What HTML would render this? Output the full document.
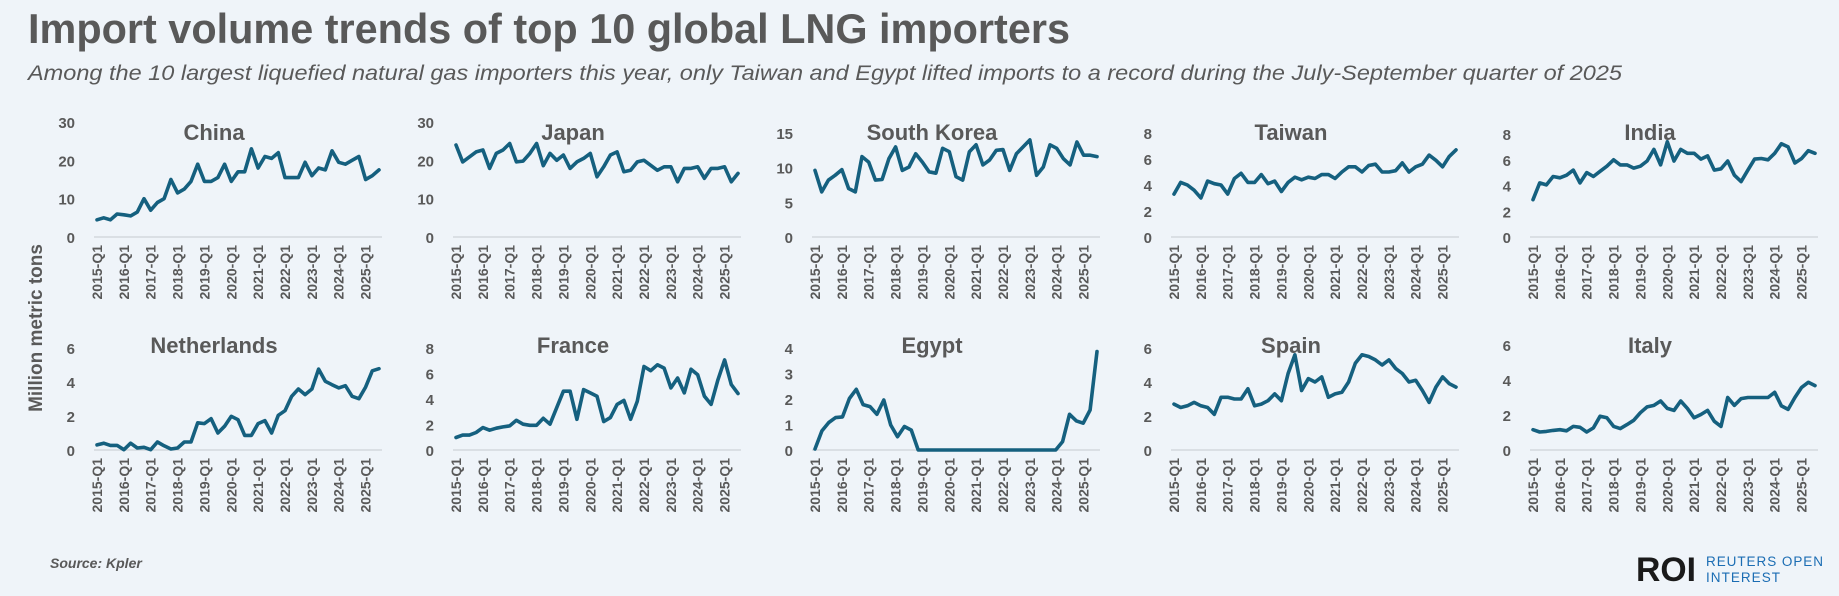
<!DOCTYPE html>
<html><head><meta charset="utf-8">
<style>
html,body{margin:0;padding:0;background:#eff4f9;}
svg{display:block;}
text{font-family:"Liberation Sans",sans-serif;}
</style></head>
<body>
<svg id="s" width="1839" height="596" viewBox="0 0 1839 596" xmlns="http://www.w3.org/2000/svg">
<rect width="1839" height="596" fill="#eff4f9"/>
<text x="28" y="43" font-size="42" font-weight="bold" fill="#595959" textLength="1042" lengthAdjust="spacingAndGlyphs">Import volume trends of top 10 global LNG importers</text>
<text x="28" y="80" font-size="21" font-style="italic" fill="#595959" textLength="1594" lengthAdjust="spacingAndGlyphs">Among the 10 largest liquefied natural gas importers this year, only Taiwan and Egypt lifted imports to a record during the July-September quarter of 2025</text>
<text transform="translate(42,328) rotate(-90)" text-anchor="middle" font-size="19" font-weight="bold" fill="#595959">Million metric tons</text>
<text x="50" y="568" font-size="14" font-weight="bold" font-style="italic" fill="#595959">Source:  Kpler</text>
<text x="1636" y="581" font-size="34" font-weight="bold" fill="#1a1a1a" textLength="60" lengthAdjust="spacingAndGlyphs">ROI</text>
<text x="1706" y="566" font-size="13.5" fill="#1b6db3" textLength="117" lengthAdjust="spacing">REUTERS OPEN</text>
<text x="1706" y="582" font-size="13.5" fill="#1b6db3" textLength="74" lengthAdjust="spacing">INTEREST</text>
<g id="g"></g>
</svg>
<script>
var P=[
["China",30,[0,10,20,30],122,0,[4.5,5,4.5,6,5.8,5.5,6.5,10,7,9,10,15,11.5,12.5,14.5,19,14.5,14.5,15.5,19,14.5,17,17,23,18,21,20.5,22,15.5,15.5,15.5,19.5,16,18,17.5,22.5,19.5,19,20,21,15,16,17.5]],
["Japan",30,[0,10,20,30],122,0,[24,19.6,20.9,22.2,22.7,17.9,21.8,22.7,24.4,19.6,19.8,21.8,24.4,18.6,21.8,20,21.4,17.9,19.6,20.5,21.8,15.7,18.3,21.4,22.2,17,17.4,19.6,20,18.7,17.4,18.3,18.3,14.4,17.9,17.9,18.3,15.3,17.9,17.9,18.3,14.4,16.6]],
["South Korea",15,[0,5,10,15],133,0,[9.6,6.5,8.2,8.9,9.7,7,6.5,11.6,10.8,8.2,8.3,11.3,13,9.6,10.1,12,10.8,9.4,9.2,12.8,12.3,8.7,8.2,12.3,13.3,10.4,11.1,12.5,12.6,9.6,12,13,14,8.9,10.1,13.3,12.8,11.3,10.4,13.7,11.8,11.8,11.6]],
["Taiwan",8,[0,2,4,6,8],133,0,[3.3,4.2,4,3.6,3,4.3,4.1,4,3.3,4.5,4.9,4.2,4.2,4.8,4.1,4.3,3.5,4.2,4.6,4.4,4.6,4.5,4.8,4.8,4.5,5,5.4,5.4,5,5.5,5.6,5,5,5.1,5.7,5,5.4,5.6,6.3,5.9,5.4,6.2,6.7]],
["India",8,[0,2,4,6,8],134,0,[2.9,4.2,4.05,4.7,4.6,4.8,5.2,4.2,5,4.7,5.1,5.5,6,5.6,5.6,5.35,5.5,5.9,6.8,5.6,7.4,5.9,6.8,6.5,6.5,6.05,6.3,5.2,5.3,5.9,4.8,4.3,5.2,6.05,6.1,6,6.5,7.25,7,5.75,6.1,6.7,6.5]],
["Netherlands",6,[0,2,4,6],348,1,[0.3,0.4,0.27,0.27,0.02,0.4,0.12,0.16,0.02,0.47,0.25,0.06,0.12,0.47,0.47,1.6,1.55,1.84,1,1.4,1.98,1.78,0.86,0.86,1.55,1.73,1,2.04,2.31,3.16,3.59,3.26,3.59,4.76,4.04,3.84,3.65,3.78,3.16,3.02,3.7,4.66,4.78]],
["France",8,[0,2,4,6,8],348,1,[0.98,1.17,1.17,1.37,1.76,1.55,1.71,1.81,1.89,2.33,2.02,1.94,1.94,2.49,2.02,3.32,4.61,4.61,2.41,4.74,4.48,4.22,2.23,2.54,3.58,3.89,2.41,3.83,6.55,6.22,6.68,6.42,4.87,5.65,4.48,6.34,5.9,4.22,3.58,5.5,7.07,5.13,4.43]],
["Egypt",4,[0,1,2,3,4],348,1,[0.04,0.75,1.08,1.27,1.3,2.02,2.38,1.78,1.7,1.4,1.96,0.98,0.52,0.92,0.78,0,0,0,0,0,0,0,0,0,0,0,0,0,0,0,0,0,0,0,0,0,0.33,1.4,1.14,1.05,1.57,3.86]],
["Spain",6,[0,2,4,6],348,1,[2.7,2.5,2.6,2.8,2.6,2.5,2.1,3.1,3.1,3,3,3.6,2.6,2.7,2.9,3.3,2.9,4.5,5.6,3.5,4.2,4,4.3,3.1,3.3,3.4,4,5.1,5.6,5.5,5.3,5,5.3,4.8,4.5,4,4.1,3.5,2.8,3.7,4.3,3.9,3.7]],
["Italy",6,[0,2,4,6],345,1,[1.16,1.03,1.06,1.12,1.16,1.1,1.35,1.3,1.03,1.26,1.93,1.84,1.35,1.22,1.45,1.7,2.13,2.46,2.55,2.8,2.38,2.26,2.8,2.38,1.84,2.03,2.26,1.64,1.35,3,2.55,2.94,3,3,3,3,3.3,2.52,2.32,3,3.58,3.87,3.68]]
];
var h="";
P.forEach(function(p,i){
 var col=i%5,row=p[4];
 var x0=94+359*col, ax=row?450:237, top=p[3], max=p[1];
 var sy=function(v){return ax-(ax-top)*v/max;};
 h+='<line x1="'+x0+'" y1="'+ax+'" x2="'+(x0+288)+'" y2="'+ax+'" stroke="#d3d8dd" stroke-width="1.5"/>';
 p[2].forEach(function(t){h+='<text x="'+(x0-19)+'" y="'+(sy(t)+6)+'" text-anchor="end" font-size="15" font-weight="bold" fill="#595959">'+t+'</text>';});
 h+='<text x="'+(x0+120)+'" y="'+(row?353:140)+'" text-anchor="middle" font-size="22" font-weight="bold" fill="#595959">'+p[0]+'</text>';
 var px0=x0+3, step=282/42;
 for(var k=0;k<11;k++){var x=px0+k*4*step+5;
  h+='<text transform="translate('+x.toFixed(1)+','+(ax+8)+') rotate(-90)" text-anchor="end" font-size="14" font-weight="bold" fill="#595959">'+(2015+k)+'-Q1</text>';}
 var d=p[5].map(function(v,j){return (j?'L':'M')+(px0+j*282/(p[5].length-1)).toFixed(1)+','+sy(v).toFixed(1);}).join('');
 h+='<path d="'+d+'" fill="none" stroke="#15607f" stroke-width="3.6" stroke-linejoin="round" stroke-linecap="round"/>';
});
document.getElementById("g").innerHTML=h;
</script>
</body></html>
